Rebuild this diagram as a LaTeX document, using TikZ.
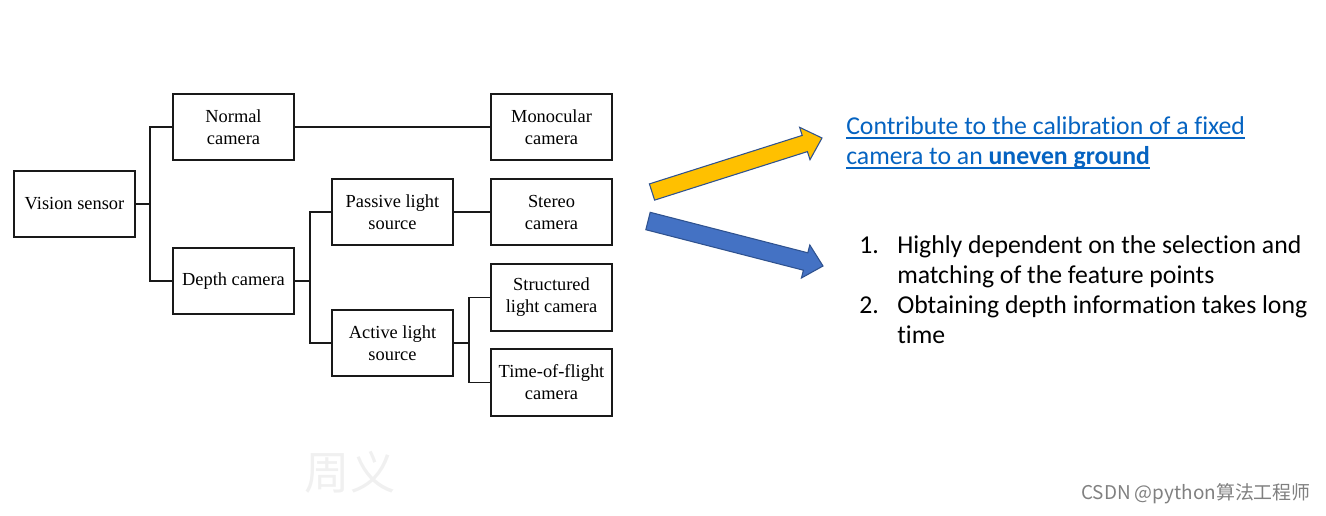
\documentclass[tikz,border=0pt]{standalone}
\usepackage{fontspec}
\setmainfont{Liberation Serif}
\newfontfamily\slidefont[Ligatures=NoCommon]{Carlito}
\newfontfamily\cjkfont{Noto Sans CJK SC}
\usepackage{tikz}
\definecolor{linkblue}{HTML}{0563C1}
\definecolor{arrowyellow}{HTML}{FFC000}
\definecolor{arrowblue}{HTML}{4472C4}
\definecolor{arrowedge}{HTML}{2F528F}

\begin{document}
\begin{tikzpicture}[x=.75pt, y=-.75pt,
    box/.style={draw=black!90, line width=1.3pt, minimum width=91pt, minimum height=50pt, align=center, inner sep=2pt, font=\fontsize{13.8}{16.5}\selectfont},
    wire/.style={draw=black!90, line width=1.2pt},
    slide/.style={anchor=base west, inner sep=0pt, font=\slidefont\fontsize{19.3}{22.5}\selectfont},
    link/.style={slide, text=linkblue},
    uline/.style={draw=linkblue, line width=1.1pt},
    fat/.style={draw=arrowedge, line width=.8pt, line join=miter}]
\useasboundingbox (0,0) rectangle (1326,515);
\node[box] (vs) at (74.5,204) {Vision sensor};
\node[box] (nc) at (233.5,127) {Normal\\camera};
\node[box] (dc) at (233.5,281) {Depth camera};
\node[box] (mc) at (551.5,127) {Monocular\\camera};
\node[box] (pl) at (392.5,212) {Passive light\\source};
\node[box] (sc) at (551.5,212) {Stereo\\camera};
\node[box] (al) at (392.5,343) {Active light\\source};
\node[box] (slc) at (551.5,297.5) {Structured\\light camera};
\node[box] (tof) at (551.5,382.5) {Time-of-flight\\camera};
\draw[wire] (vs.east) -- ++(14,0) |- (nc.west);
\draw[wire] (vs.east) -- ++(14,0) |- (dc.west);
\draw[wire] (nc.east) -- (mc.west);
\draw[wire] (dc.east) -- ++(15,0) |- (pl.west);
\draw[wire] (dc.east) -- ++(15,0) |- (al.west);
\draw[wire] (pl.east) -- (sc.west);
\draw[wire] (al.east) -- ++(15,0) |- (slc.west);
\draw[wire] (al.east) -- ++(15,0) |- (tof.west);
\draw[fat, fill=arrowyellow] (649.4,183.9) -- (802.2,135.4) -- (799.6,127.3) -- (822,138)
    -- (810,159.7) -- (807.4,151.6) -- (654.6,200.1) -- cycle;
\draw[fat, fill=arrowblue] (650.2,212.3) -- (807.8,252.8) -- (809.8,245) -- (823,266)
    -- (801.4,278) -- (803.4,270.2) -- (645.8,229.7) -- cycle;
\node[link] (l1) at (846,134) {Contribute to the calibration of a fixed};
\node[link] (l2) at (846,164) {camera to an \textbf{uneven ground}};
\draw[uline] ([yshift=-3pt]l1.base west) -- ([yshift=-3pt]l1.base east);
\draw[uline] ([yshift=-3pt]l2.base west) -- ([yshift=-3pt]l2.base east);
\node[slide] (n1) at (859,253) {1.};
\node[slide] (i1a) at (897,253) {Highly dependent on the selection and};
\node[slide] (i1b) at (897,283) {matching of the feature points};
\node[slide] (n2) at (859,313) {2.};
\node[slide] (i2a) at (897,313) {Obtaining depth information takes long};
\node[slide] (i2b) at (897,343) {time};
\node[text=black!6, font=\cjkfont\fontsize{34}{34}\selectfont] (wm) at (350,472) {周义};
\node[anchor=east, inner sep=0pt, text=black!50, font=\cjkfont\fontsize{14.2}{15}\selectfont] (csdn) at (1311,494) {CSDN @python算法工程师};
\end{tikzpicture}
\end{document}
